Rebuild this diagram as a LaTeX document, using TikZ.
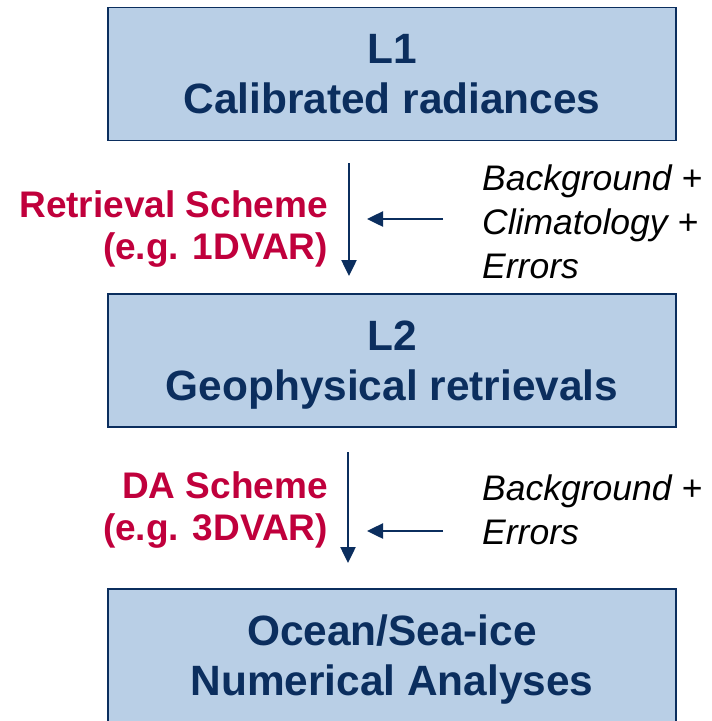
\documentclass[tikz,border=0pt]{standalone}
\usepackage{fontspec}
\setmainfont{Liberation Sans}
\usetikzlibrary{arrows.meta}
\definecolor{navy}{HTML}{0B2E5E}
\definecolor{boxblue}{HTML}{B9CFE6}
\definecolor{schemered}{HTML}{C0003C}
\begin{document}
\begin{tikzpicture}[x=1pt,y=-1pt,
    level/.style={draw=navy,line width=1.5pt,fill=boxblue,text=navy,
      font=\fontsize{42.4}{50}\selectfont\bfseries,align=center,
      minimum width=568pt,minimum height=133pt,inner sep=0pt,text depth=0pt},
    scheme/.style={text=schemered,font=\fontsize{37}{42}\selectfont\bfseries,
      align=right,anchor=east,inner sep=0pt},
    input/.style={font=\fontsize{35.5}{44}\selectfont\itshape,
      align=left,anchor=west,inner sep=0pt},
    flow/.style={-{Triangle[length=16pt,width=15pt]},draw=navy,line width=2.5pt}]
  \useasboundingbox (0,0) rectangle (712,721);
  \node[level] (l1) at (392,74) {L1\\Calibrated radiances};
  \node[level] (l2) at (392,360.5) {L2\\Geophysical retrievals};
  \node[level] (ana) at (392,655.5) {Ocean/Sea-ice\\Numerical Analyses};
  \node[scheme] (ret) at (328,229) {Retrieval Scheme\\(e.g. 1DVAR)};
  \node[scheme] (da) at (328,510) {DA Scheme\\(e.g. 3DVAR)};
  \node[input] (bce) at (482,222) {Background +\\Climatology +\\Errors};
  \node[input] (be) at (482,510) {Background +\\Errors};
  \coordinate (r0) at (349,163);
  \coordinate (r1) at (349,276);
  \coordinate (d0) at (348,452);
  \coordinate (d1) at (348,563);
  \coordinate (p0) at (443,219);
  \coordinate (p1) at (367,219);
  \coordinate (q0) at (443,531);
  \coordinate (q1) at (367,531);
  \begin{scope}[flow]
    \draw (r0) to (r1);
    \draw (d0) to (d1);
    \draw (p0) to (p1);
    \draw (q0) to (q1);
  \end{scope}
\end{tikzpicture}
\end{document}
